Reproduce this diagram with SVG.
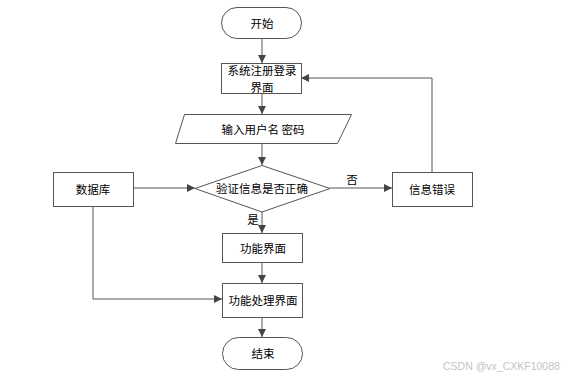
<svg xmlns="http://www.w3.org/2000/svg" width="562" height="378" viewBox="0 0 562 378">
<defs>
<marker id="ah" viewBox="0 0 10 10" refX="10" refY="5" markerWidth="8" markerHeight="8" markerUnits="userSpaceOnUse" orient="auto">
<path d="M0,0 L10,5 L0,10 z" fill="#444"/>
</marker>
</defs>
<style>
.s{fill:#fff;stroke:#555;stroke-width:1}
.t{font-family:"Noto Sans CJK SC","Liberation Sans",sans-serif;font-size:11.5px;fill:#000;text-anchor:middle;dominant-baseline:central}
.c{fill:none;stroke:#555;stroke-width:1;marker-end:url(#ah)}
.w{font-family:"Liberation Sans",sans-serif;font-size:10.5px;fill:#c4c4c4}
</style>
<rect width="562" height="378" fill="#fff"/>
<g id="connectors">
<path class="c" d="M262,38 V63"/>
<path class="c" d="M262,93 V114"/>
<path class="c" d="M262,143 V165"/>
<path class="c" d="M330,188 H392"/>
<path class="c" d="M432,172 V78 H301"/>
<path class="c" d="M134,188 H195"/>
<path class="c" d="M93,206 V299 H222"/>
<path class="c" d="M262,212 V233"/>
<path class="c" d="M262,262 V283"/>
<path class="c" d="M262,317 V337"/>
<text class="t" x="352" y="179">否</text>
<text class="t" x="253" y="219">是</text>
</g>
<g id="start"><rect class="s" x="221.5" y="7.5" width="80" height="31" rx="15.5"/><text class="t" x="262" y="23">开始</text></g>
<g id="register"><rect class="s" x="221.5" y="63.5" width="80" height="30"/><text class="t" x="262" y="70">系统注册登录</text><text class="t" x="262" y="86.5">界面</text></g>
<g id="input"><path class="s" d="M184.5,114.5 H351.5 L337.5,143.5 H175.5 Z"/><text class="t" x="263" y="129">输入用户名 密码</text></g>
<g id="verify"><path class="s" d="M262,165.5 L330,188.5 L262,212 L195,188.5 Z"/><text class="t" x="262" y="188">验证信息是否正确</text></g>
<g id="error"><rect class="s" x="392.5" y="172.5" width="80" height="34"/><text class="t" x="432" y="189">信息错误</text></g>
<g id="db"><rect class="s" x="53.5" y="172.5" width="80" height="34"/><text class="t" x="93" y="189">数据库</text></g>
<g id="func"><rect class="s" x="222.5" y="233.5" width="80" height="29"/><text class="t" x="263" y="248">功能界面</text></g>
<g id="process"><rect class="s" x="222.5" y="283.5" width="80" height="34"/><text class="t" x="263" y="300">功能处理界面</text></g>
<g id="end"><rect class="s" x="222.5" y="337.5" width="80" height="32" rx="16"/><text class="t" x="263" y="353">结束</text></g>
<text class="w" x="443" y="370">CSDN @vx_CXKF10088</text>
</svg>
